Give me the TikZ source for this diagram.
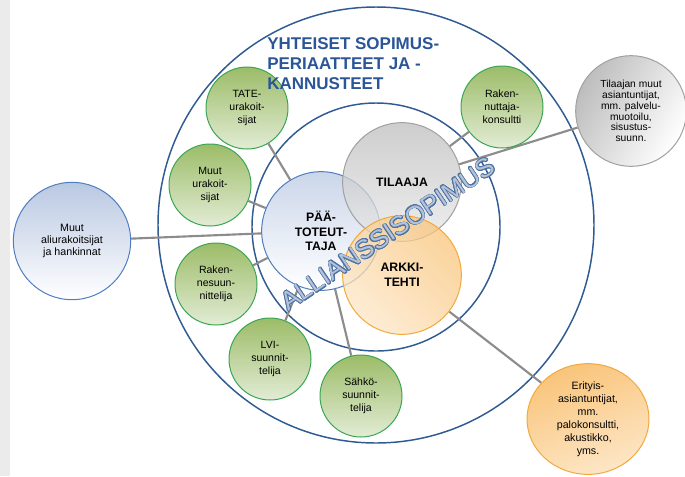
\documentclass[tikz,border=0pt]{standalone}
\usepackage{fontspec}
\setmainfont{Liberation Sans}
\usepackage[copies]{contour}
\usetikzlibrary{shapes.geometric,backgrounds}

\definecolor{ringblue}{HTML}{2F5A92}
\definecolor{titleblue}{HTML}{2A5597}
\definecolor{connect}{HTML}{8C8C8C}
\definecolor{stripgrey}{HTML}{EBEBEB}
\definecolor{greenline}{HTML}{3AA655}
\definecolor{greentop}{HTML}{9CBC68}
\definecolor{greenbot}{HTML}{E2ECD5}
\definecolor{blueline}{HTML}{4F7DC0}
\definecolor{bluetop}{HTML}{B9C8E2}
\definecolor{greyline}{HTML}{A0A0A0}
\definecolor{greytop}{HTML}{BDBDBD}
\definecolor{greybot}{HTML}{E8E8E8}
\definecolor{orangeline}{HTML}{F2A93B}
\definecolor{orangetop}{HTML}{FDE6C6}
\definecolor{orangebot}{HTML}{F9C47A}
\definecolor{letterfill}{HTML}{B4C3DA}

\newcommand{\ballfont}{\fontsize{7.9}{9.75}\selectfont}
\newcommand{\corefont}{\fontsize{9.2}{11}\selectfont\bfseries}

\tikzset{
  ring/.style={draw=ringblue, line width=1.1pt},
  link/.style={draw=connect, line width=1.6pt},
  ball/.style={circle, draw, line width=0.75pt, inner sep=0pt, align=center, text=black},
  greenball/.style={ball, minimum size=61.5pt, draw=greenline, top color=greentop, bottom color=greenbot, font=\ballfont},
  coreball/.style={ball, minimum size=89pt, fill opacity=0.75, text opacity=1, font=\corefont},
}

\begin{document}
\begin{tikzpicture}[x=0.75pt,y=-0.75pt]
\useasboundingbox (0,0) rectangle (685,476);
\fill[stripgrey] (0,0) rectangle (10,476);

% the alliance itself
\node[coreball, draw=blueline, top color=bluetop, bottom color=white] (paa) at (321,231) {PÄÄ-\\TOTEUT-\\TAJA};
\node[coreball, draw=greyline, top color=greytop, bottom color=greybot] (tilaaja) at (402,182) {TILAAJA};
\node[coreball, draw=orangeline, left color=orangetop, right color=orangebot, shading angle=135] (arkki) at (402,275) {ARKKI-\\TEHTI};

% partners in the ring
\node[greenball] (tate) at (247,108) {TATE-\\urakoit-\\sijat};
\node[greenball] (muutur) at (210,185) {Muut\\urakoit-\\sijat};
\node[greenball] (rakennes) at (216,284) {Raken-\\nesuun-\\nittelija};
\node[greenball] (lvi) at (270,359) {LVI-\\suunnit-\\telija};
\node[greenball] (sahko) at (361,396) {Sähkö-\\suunnit-\\telija};
\node[greenball] (rakennuttaja) at (502,107) {Raken-\\nuttaja-\\konsultti};

% outside the rings
\node[ball, minimum size=88pt, draw=blueline, top color=bluetop, bottom color=white, font=\fontsize{8}{8.75}\selectfont] (muutali) at (72,241) {Muut\\aliurakoitsijat\\ja hankinnat};
\node[ball, minimum size=83pt, draw=greyline, left color=greytop, right color=white, shading angle=60, font=\fontsize{7.7}{8.1}\selectfont] (tilmuut) at (631,111) {Tilaajan muut\\asiantuntijat,\\mm. palvelu-\\muotoilu,\\sisustus-\\suunn.};
\node[ball, ellipse, minimum width=91.5pt, minimum height=83pt, draw=orangeline, top color=orangetop, bottom color=orangebot, shading angle=200, font=\fontsize{8}{9.75}\selectfont] (erityis) at (588,419) {Erityis-\\asiantuntijat,\\mm.\\palokonsultti,\\akustikko,\\yms.};

\begin{scope}[on background layer]
  \draw[ring] (376,225) circle (218);
  \draw[ring] (376,227) circle (124);
  \draw[link] (muutali) -- (paa);
  \draw[link] (tate) -- (paa);
  \draw[link] (muutur) -- (paa);
  \draw[link] (rakennes) -- (paa);
  \draw[link] (lvi) -- (paa);
  \draw[link] (sahko) -- (paa);
  \draw[link] (rakennuttaja) -- (tilaaja);
  \draw[link] (tilmuut) -- (tilaaja);
  \draw[link] (arkki) -- (erityis);
\end{scope}

\node[anchor=north west, align=left, inner sep=0pt, text=titleblue, font=\fontsize{12.75}{15}\selectfont\bfseries] (yhteiset) at (267,37) {YHTEISET SOPIMUS-\\PERIAATTEET JA -\\KANNUSTEET};

\contourlength{0.5pt}
\node[rotate=34, inner sep=0pt, text=letterfill, font=\fontsize{19.5}{20}\selectfont] (allianssi) at (388,234) {\contour{ringblue!85}{ALLIANSSISOPIMUS}};
\end{tikzpicture}
\end{document}
